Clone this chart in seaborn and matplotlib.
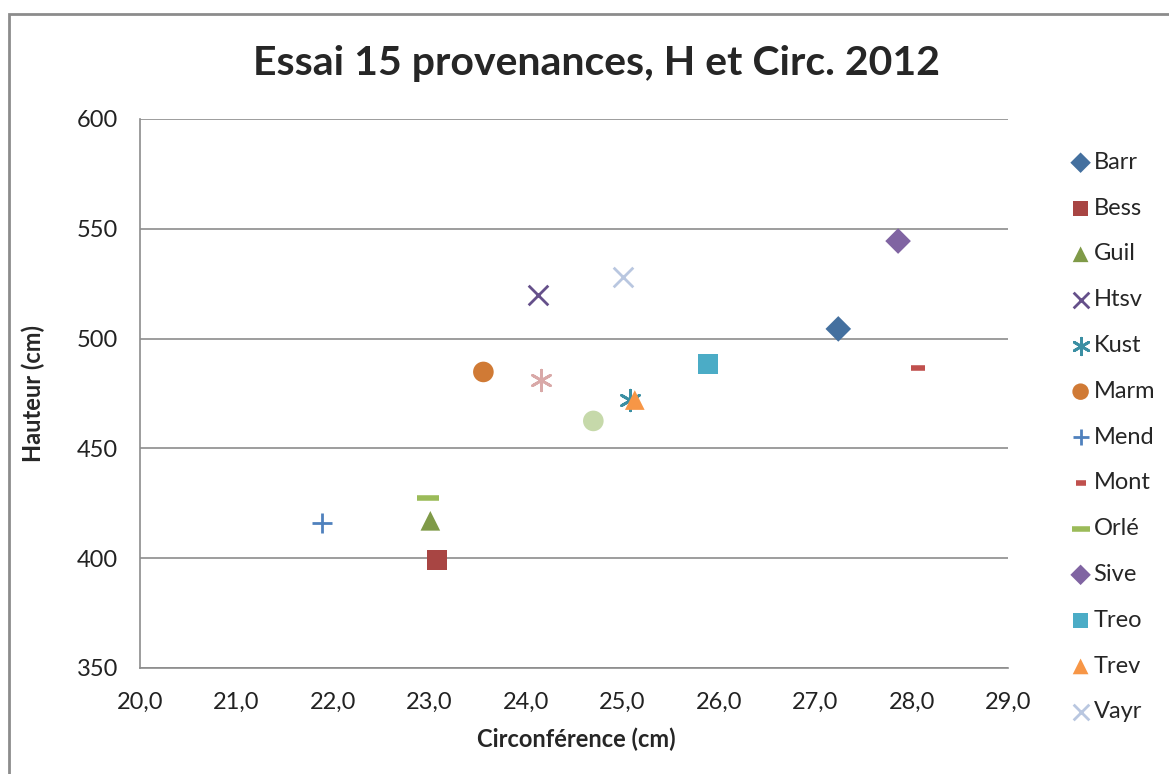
import pandas as pd
import matplotlib.pyplot as plt
import seaborn as sns
from matplotlib.patches import Rectangle
from matplotlib.ticker import FuncFormatter, MultipleLocator

# ---------------------------------------------------------
# 1. DATA
# ---------------------------------------------------------
provenances = ['Barr', 'Bess', 'Guil', 'Htsv', 'Kust', 'Marm', 'Mend',
               'Mont', 'Orlé', 'Sive', 'Treo', 'Trev', 'Vayr', 'P14', 'P15']
circ = [27.24, 23.08, 23.01, 24.13, 25.08, 23.56, 21.89,
        28.07, 22.99, 27.86, 25.89, 25.13, 25.01, 24.16, 24.70]
hauteur = [504.4, 399.2, 417.0, 519.9, 472.0, 484.8, 416.0,
           486.6, 427.4, 544.4, 488.4, 472.0, 528.0, 481.1, 462.5]
colors = ['#44709f', '#a84543', '#7f9a48', '#65508a', '#3b8fa3', '#d07a35', '#4f81bd',
          '#c0504d', '#9bbb59', '#8064a2', '#4bacc6', '#f79646', '#b9c7e0', '#d9a9a8', '#c6d9aa']
markers = ['D', 's', '^', 'x', (6, 2, 0), 'o', '+',
           '_', '_', 'D', 's', '^', 'x', (6, 2, 0), 'o']
sizes = [170, 200, 200, 200, 220, 220, 200,
         90, 250, 170, 200, 200, 200, 220, 220]
in_legend = [True] * 13 + [False] * 2

df = pd.DataFrame({'provenance': provenances, 'circ': circ, 'hauteur': hauteur})

# ---------------------------------------------------------
# 2. PLOT
# ---------------------------------------------------------
sns.set_style('white')
plt.rcParams['font.family'] = ['Lato', 'DejaVu Sans']

fig = plt.figure(figsize=(11.69, 7.74), dpi=100)
ax = fig.add_axes([0.1198, 0.137, 0.7425, 0.7093])

# outer chart border (Excel chart area)
fig.patches.append(Rectangle((9 / 1169, -0.05), 1.2, 1 - 14 / 774 + 0.05,
                             transform=fig.transFigure, fill=False,
                             edgecolor='#8c8c8c', linewidth=2))

for i, name in enumerate(provenances):
    sub = df[df['provenance'] == name]
    lw = 2 if markers[i] in ('x', '+', (6, 2, 0)) else (4 if markers[i] == '_' else 0)
    sns.scatterplot(data=sub, x='circ', y='hauteur', ax=ax,
                    color=colors[i], marker=markers[i], s=sizes[i],
                    linewidth=lw, edgecolor=colors[i] if lw else 'none',
                    label=name if in_legend[i] else '_nolegend_', zorder=3)

ax.set_xlim(20, 29)
ax.set_ylim(350, 600)
ax.xaxis.set_major_locator(MultipleLocator(1))
ax.yaxis.set_major_locator(MultipleLocator(50))
ax.xaxis.set_major_formatter(FuncFormatter(lambda v, p: f'{v:.1f}'.replace('.', ',')))
ax.grid(axis='y', color='#8c8c8c', linewidth=1.2)
ax.grid(axis='x', visible=False)
for side in ['top', 'right']:
    ax.spines[side].set_visible(False)
for side in ['left', 'bottom']:
    ax.spines[side].set_color('#8c8c8c')
    ax.spines[side].set_linewidth(1.2)
ax.tick_params(axis='both', labelsize=17, length=0, colors='#222222')
ax.tick_params(axis='y', pad=16)
ax.tick_params(axis='x', length=5, direction='out', color='#8c8c8c', pad=12)

ax.set_xlabel('Circonférence (cm)', fontsize=17, fontweight='bold')
ax.set_ylabel('Hauteur (cm)', fontsize=17, fontweight='bold')
ax.xaxis.set_label_coords(0.503, -0.109)
ax.yaxis.set_label_coords(-0.11, 0.5)
fig.text(0.51, 0.918, 'Essai 15 provenances, H et Circ. 2012',
         ha='center', va='center', fontsize=29.5, fontweight='bold')

ax.legend(loc='upper left', bbox_to_anchor=(1.07, 0.94), frameon=False,
          fontsize=17, handletextpad=0.05, handlelength=1.0,
          labelspacing=1.05, borderaxespad=0, borderpad=0, markerscale=0.8)

plt.savefig('out.png', dpi=100)
